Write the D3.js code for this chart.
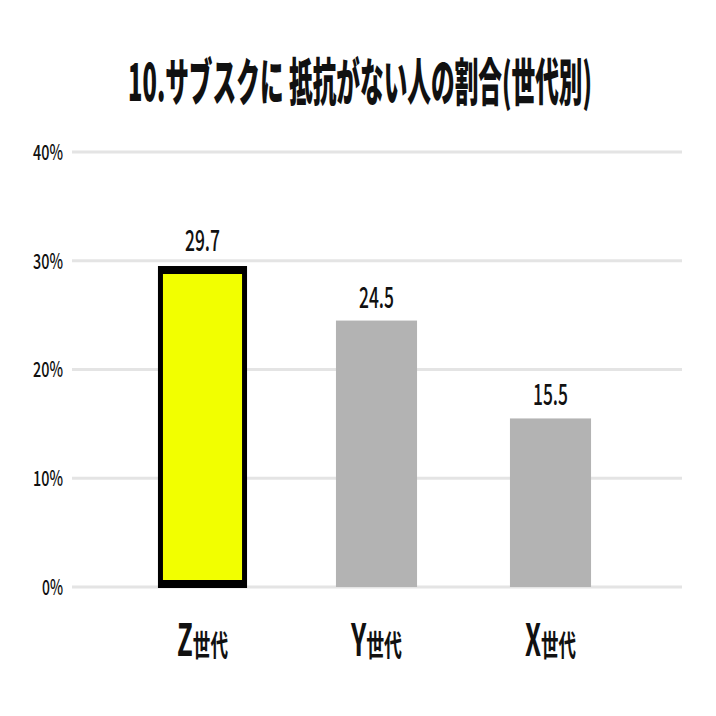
<!DOCTYPE html>
<html><head><meta charset="utf-8">
<script src="https://cdn.jsdelivr.net/npm/d3@7"></script>
<style>html,body{margin:0;padding:0;background:#fff}</style>
</head><body>
<svg id="c" width="716" height="716"></svg>
<script>
const title = "10.サブスクに 抵抗がない人の割合(世代別)";
const categories = ["Z", "Y", "X"];
const categorySuffix = "世代";
const values = [29.7, 24.5, 15.5];
const valueLabels = ["29.7", "24.5", "15.5"];
const yTicks = [0, 10, 20, 30, 40];
const highlight = "Z";

const svg = d3.select("#c");
const FONT = "'Noto Sans CJK JP','Noto Sans',sans-serif";

const y = d3.scaleLinear().domain([0, 40]).range([587, 152]);
const x = d3.scaleBand().domain(categories).range([115.5, 637.5])
  .paddingInner(0.534).paddingOuter(0.267);

svg.append("rect").attr("width", 716).attr("height", 716).attr("fill", "#fff");

function fit(t, w) {
  const len = t.node().getComputedTextLength();
  const s = w / len;
  const cx = +t.attr("x"), cy = +t.attr("y");
  t.attr("transform", `translate(${cx},${cy}) scale(${s},1) translate(${-cx},${-cy})`);
}

svg.append("g").selectAll("line").data(yTicks).join("line")
  .attr("x1", 72).attr("x2", 682)
  .attr("y1", d => y(d)).attr("y2", d => y(d))
  .attr("stroke", "#e4e4e4").attr("stroke-width", 3);

svg.append("g").selectAll("text").data(yTicks).join("text")
  .attr("x", 63).attr("y", d => y(d) + 8)
  .attr("text-anchor", "end")
  .attr("font-family", FONT).attr("font-weight", 500).attr("font-size", 21)
  .attr("fill", "#111")
  .text(d => d + "%")
  .each(function(d) { fit(d3.select(this), d === 0 ? 21 : 30); });

const bars = svg.append("g");
categories.forEach((c, i) => {
  const x0 = x(c), w = x.bandwidth(), top = y(values[i]), base = y(0);
  if (c === highlight) {
    bars.append("rect").attr("x", x0 - 4).attr("y", top + 2)
      .attr("width", w + 8).attr("height", base + 1 - top - 2).attr("fill", "#000");
    bars.append("rect").attr("x", x0 + 1).attr("y", top + 10)
      .attr("width", w - 2).attr("height", base - 7 - top - 10).attr("fill", "#f2ff00");
  } else {
    bars.append("rect").attr("x", x0).attr("y", top)
      .attr("width", w).attr("height", base - top).attr("fill", "#b3b3b3");
  }
  const lbl = svg.append("text")
    .attr("x", x0 + w / 2).attr("y", top - 13)
    .attr("text-anchor", "middle")
    .attr("font-family", FONT).attr("font-weight", 500).attr("font-size", 29)
    .attr("fill", "#111").text(valueLabels[i]);
  fit(lbl, 35);

  const xl = svg.append("text")
    .attr("x", x0 + w / 2).attr("y", 656)
    .attr("text-anchor", "middle")
    .attr("font-family", FONT).attr("font-weight", 700)
    .attr("fill", "#111");
  xl.append("tspan").attr("font-size", 44).text(c);
  xl.append("tspan").attr("font-size", 30).text(categorySuffix);
  fit(xl, 51);
});

const tt = svg.append("text").attr("x", 360).attr("y", 101)
  .attr("text-anchor", "middle")
  .attr("font-family", FONT).attr("font-weight", 900).attr("font-size", 51)
  .attr("fill", "#111").text(title);
fit(tt, 464);
</script>
</body></html>
